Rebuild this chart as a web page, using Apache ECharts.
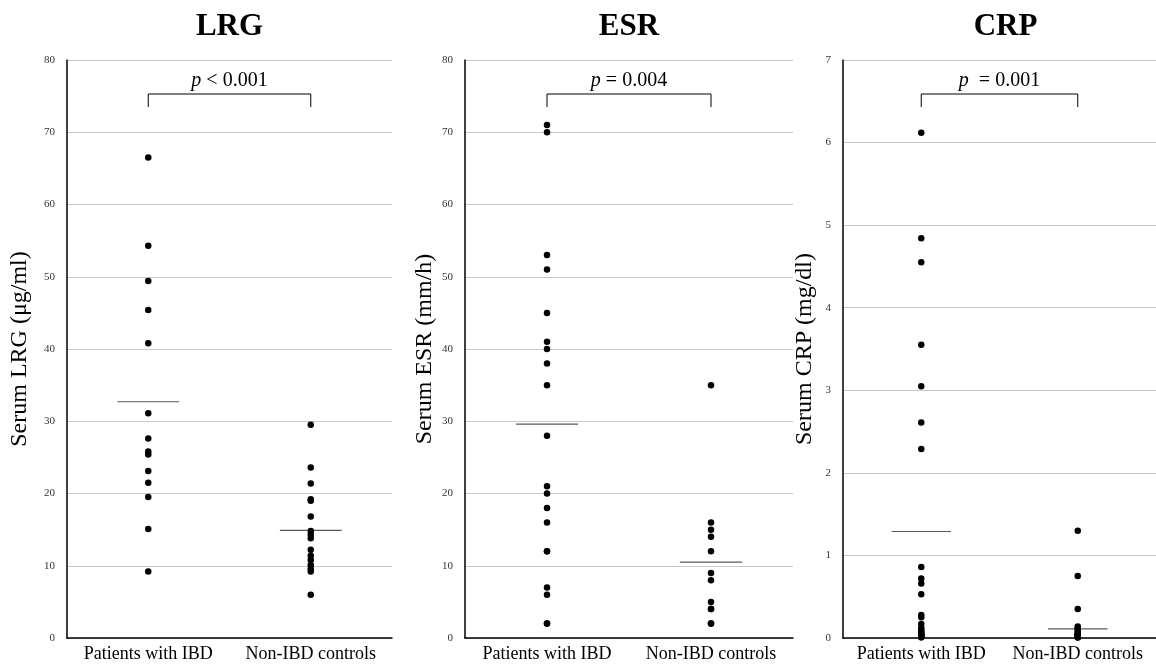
<!DOCTYPE html>
<html><head><meta charset="utf-8">
<script src="https://cdn.jsdelivr.net/npm/echarts@6/dist/echarts.min.js"></script>
<style>html,body{margin:0;padding:0;background:#fff}#c{width:1156px;height:668px}</style>
</head><body><div id="c"></div>
<script>
var categories = ['Patients with IBD', 'Non-IBD controls'];
var panelTitles = ['LRG', 'ESR', 'CRP'];
var axisNames = ['Serum LRG (μg/ml)', 'Serum ESR (mm/h)', 'Serum CRP (mg/dl)'];
var pTexts = ['{i|p} < 0.001', '{i|p} = 0.004', '{i|p}  = 0.001'];
var yMax = [80, 80, 7];
var yInterval = [10, 10, 1];

var lrgIBD = [66.5, 54.3, 49.4, 45.4, 40.8, 31.1, 27.6, 25.8, 25.4, 23.1, 21.5, 19.5, 15.1, 9.2];
var lrgCtrl = [29.5, 23.6, 21.4, 19.2, 19.0, 16.8, 14.8, 14.3, 13.8, 12.2, 11.4, 10.8, 10.1, 9.6, 9.2, 6.0];
var esrIBD = [71, 70, 53, 51, 45, 41, 40, 38, 35, 28, 21, 20, 18, 16, 12, 12, 7, 6, 2, 2];
var esrCtrl = [35, 16, 15, 14, 12, 9, 8, 5, 4, 4, 2, 2];
var crpIBD = [6.12, 4.84, 4.55, 3.55, 3.05, 2.61, 2.29, 0.86, 0.72, 0.66, 0.53, 0.28, 0.25, 0.17, 0.12, 0.10, 0.08, 0.06, 0.05, 0.04, 0.03, 0.02, 0.01, 0.01];
var crpCtrl = [1.30, 0.75, 0.35, 0.14, 0.12, 0.10, 0.08, 0.06, 0.05, 0.04, 0.04, 0.03, 0.03, 0.02, 0.02, 0.02, 0.01, 0.01, 0.01, 0.01];
var lrgMeans = [32.7, 14.9];
var esrMeans = [29.6, 10.5];
var crpMeans = [1.29, 0.11];

var groups = [[lrgIBD, lrgCtrl], [esrIBD, esrCtrl], [crpIBD, crpCtrl]];
var means = [lrgMeans, esrMeans, crpMeans];

var FONT = '"Liberation Serif", "Times New Roman", serif';
var gridPos = [
  {left: 67, top: 60, width: 325, height: 578},
  {left: 465, top: 60, width: 328, height: 578},
  {left: 843, top: 60, width: 325, height: 578}
];
var nameGaps = [35, 28, 26];

var option = {
  animation: false,
  backgroundColor: '#fff',
  title: panelTitles.map(function (t, i) {
    return {text: t, left: gridPos[i].left + gridPos[i].width / 2 - 5, top: 6, textAlign: 'center',
      textStyle: {fontFamily: FONT, fontWeight: 'bold', fontSize: 31, color: '#000'}};
  }),
  grid: gridPos,
  xAxis: gridPos.map(function (g, i) {
    return {type: 'category', gridIndex: i, data: categories,
      axisLine: {lineStyle: {color: '#000', width: 1.5}},
      axisTick: {show: false},
      axisLabel: {interval: 0, fontFamily: FONT, fontSize: 18, color: '#000', margin: 7},
      splitLine: {show: false}};
  }),
  yAxis: gridPos.map(function (g, i) {
    return {type: 'value', gridIndex: i, min: 0, max: yMax[i], interval: yInterval[i],
      name: axisNames[i], nameLocation: 'middle', nameRotate: 90, nameGap: nameGaps[i],
      nameTextStyle: {fontFamily: FONT, fontSize: 24, color: '#000'},
      axisLine: {show: true, lineStyle: {color: '#000', width: 1.5}},
      axisTick: {show: false},
      axisLabel: {fontFamily: FONT, fontSize: 11, color: '#333', margin: 12},
      splitLine: {lineStyle: {color: '#c8c8c8', width: 1}}};
  }),
  series: []
};

groups.forEach(function (g, i) {
  var data = g[0].map(function (v) { return [0, v]; }).concat(g[1].map(function (v) { return [1, v]; }));
  option.series.push({
    type: 'custom', xAxisIndex: i, yAxisIndex: i, z: 2, silent: true,
    data: means[i].map(function (m, k) { return [k, m]; }),
    renderItem: function (params, api) {
      var p = api.coord([api.value(0), api.value(1)]);
      var half = api.size([1, 0])[0] * 0.19;
      return {type: 'line', shape: {x1: p[0] - half, y1: p[1], x2: p[0] + half, y2: p[1]},
        style: {stroke: '#595959', lineWidth: 1.2}};
    }
  });
  option.series.push({
    type: 'scatter', xAxisIndex: i, yAxisIndex: i, z: 3, silent: true,
    symbol: 'circle', symbolSize: 6.5, itemStyle: {color: '#000', opacity: 1},
    data: data
  });
  option.series.push({
    type: 'custom', xAxisIndex: i, yAxisIndex: i, z: 4, silent: true,
    data: [[0, 0]],
    renderItem: function (params, api) {
      var top = params.coordSys.y;
      var a = api.coord([0, 0]);
      var b = api.coord([1, 0]);
      var yb = top + 34;
      return {type: 'group', children: [
        {type: 'polyline', shape: {points: [[a[0], yb + 13], [a[0], yb], [b[0], yb], [b[0], yb + 13]]},
          style: {stroke: '#000', lineWidth: 1, fill: null}},
        {type: 'text', x: (a[0] + b[0]) / 2, y: top + 21,
          style: {text: pTexts[i], align: 'center', verticalAlign: 'middle',
            font: '20px ' + FONT, fill: '#000',
            rich: {i: {fontStyle: 'italic', fontSize: 20, fontFamily: FONT}}}}
      ]};
    }
  });
});

var chart = echarts.init(document.getElementById('c'), null, {renderer: 'canvas'});
chart.setOption(option);
</script>
</body></html>
